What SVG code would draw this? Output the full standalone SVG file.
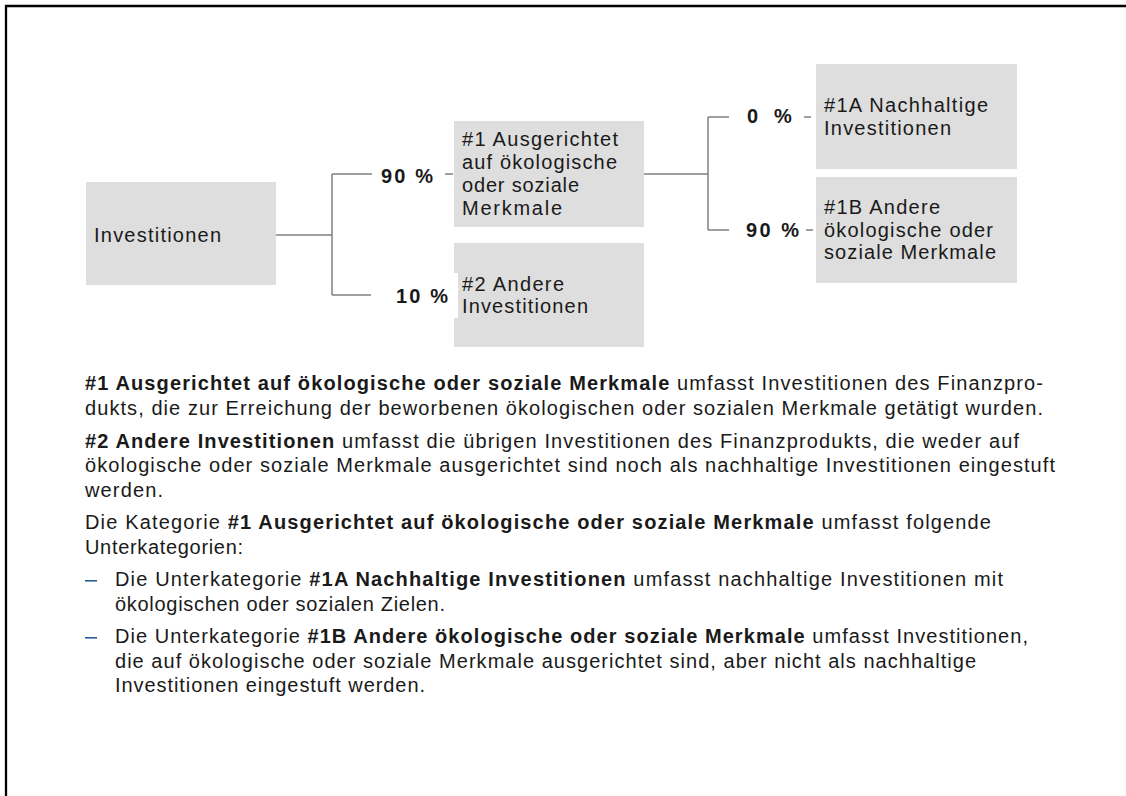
<svg xmlns="http://www.w3.org/2000/svg" width="1126" height="796" viewBox="0 0 1126 796">
<style>
text{font-family:"Liberation Sans",Arial,sans-serif;font-size:20px;fill:#1a1a1a}
.b{font-weight:bold}
.box{fill:#dedede}
.con{stroke:#808080;stroke-width:1.5;fill:none}
.frame{stroke:#000;stroke-width:2.3;fill:none}
.dash{fill:#2b5d9c}
</style>
<rect width="1126" height="796" fill="#fff"/>
<path class="frame" d="M6,796 V6 H1126"/>
<g id="connectors">
<path class="con" d="M276,235 H332 M332,174 V295 M332,174 H372 M332,295 H371 M445,174 H453"/>
<path class="con" d="M600,174 H708 M708,117 V230 M708,117 H729 M708,230 H729 M804,117 H811 M806,230 H813"/>
</g>
<g id="n-investitionen">
<rect class="box" x="86" y="182" width="190" height="103"/>
<text x="94" y="242" textLength="127">Investitionen</text>
</g>
<g id="n-1">
<rect class="box" x="454" y="121" width="190" height="106"/>
<text x="462" y="146" textLength="156">#1 Ausgerichtet</text>
<text x="462" y="169" textLength="155">auf ökologische</text>
<text x="462" y="192" textLength="117">oder soziale</text>
<text x="462" y="215" textLength="100">Merkmale</text>
</g>
<g id="n-2">
<rect class="box" x="454" y="243" width="190" height="104"/>
<text x="462" y="291" textLength="102">#2 Andere</text>
<text x="462" y="313" textLength="126">Investitionen</text>
</g>
<g id="n-1a">
<rect class="box" x="816" y="64" width="201" height="105"/>
<text x="824" y="112" textLength="164">#1A Nachhaltige</text>
<text x="824" y="135" textLength="127">Investitionen</text>
</g>
<g id="n-1b">
<rect class="box" x="816" y="177" width="201" height="106"/>
<text x="824" y="214" textLength="116">#1B Andere</text>
<text x="824" y="237" textLength="169">ökologische oder</text>
<text x="824" y="259" textLength="172">soziale Merkmale</text>
</g>
<g id="labels">
<text class="b" x="381" y="183" textLength="52">90 %</text>
<rect x="392" y="273" width="66" height="45" fill="#fff"/>
<text class="b" x="396" y="303" textLength="52">10 %</text>
<text class="b" x="747" y="123">0<tspan x="774">%</tspan></text>
<text class="b" x="746" y="237" textLength="53">90 %</text>
</g>
<g id="legend">
<text x="85" y="390" textLength="958"><tspan class="b">#1 Ausgerichtet auf ökologische oder soziale Merkmale</tspan> umfasst Investitionen des Finanzpro-</text>
<text x="85" y="415" textLength="958">dukts, die zur Erreichung der beworbenen ökologischen oder sozialen Merkmale getätigt wurden.</text>
<text x="85" y="448" textLength="934"><tspan class="b">#2 Andere Investitionen</tspan> umfasst die übrigen Investitionen des Finanzprodukts, die weder auf</text>
<text x="85" y="472" textLength="970">ökologische oder soziale Merkmale ausgerichtet sind noch als nachhaltige Investitionen eingestuft</text>
<text x="85" y="497" textLength="78">werden.</text>
<text x="85" y="529" textLength="906">Die Kategorie <tspan class="b">#1 Ausgerichtet auf ökologische oder soziale Merkmale</tspan> umfasst folgende</text>
<text x="85" y="554" textLength="158">Unterkategorien:</text>
<rect class="dash" x="85" y="580" width="12" height="1.6"/>
<text x="115" y="586" textLength="888">Die Unterkategorie <tspan class="b">#1A Nachhaltige Investitionen</tspan> umfasst nachhaltige Investitionen mit</text>
<text x="115" y="611" textLength="330">ökologischen oder sozialen Zielen.</text>
<rect class="dash" x="85" y="637" width="12" height="1.6"/>
<text x="115" y="643" textLength="913">Die Unterkategorie <tspan class="b">#1B Andere ökologische oder soziale Merkmale</tspan> umfasst Investitionen,</text>
<text x="115" y="668" textLength="861">die auf ökologische oder soziale Merkmale ausgerichtet sind, aber nicht als nachhaltige</text>
<text x="115" y="692" textLength="310">Investitionen eingestuft werden.</text>
</g>
</svg>
